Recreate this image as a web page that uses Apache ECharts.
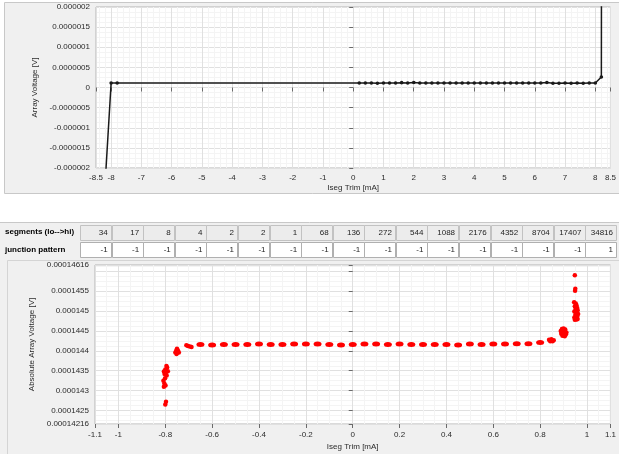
<!DOCTYPE html>
<html><head><meta charset="utf-8">
<script src="https://cdn.jsdelivr.net/npm/echarts@6/dist/echarts.min.js"></script>
<style>html,body{margin:0;padding:0;background:#fff;}#c{width:619px;height:454px;}</style>
</head><body><div id="c"></div>
<script>
// ---------- Top chart: Array Voltage vs Iseg Trim ----------
const trimTop = [-8.2, -8, -7.8,
  0.2, 0.4, 0.6, 0.8, 1.0, 1.2, 1.4, 1.6, 1.8, 2.0,
  2.2, 2.4, 2.6, 2.8, 3.0, 3.2, 3.4, 3.6, 3.8, 4.0,
  4.2, 4.4, 4.6, 4.8, 5.0, 5.2, 5.4, 5.6, 5.8, 6.0,
  6.2, 6.4, 6.6, 6.8, 7.0, 7.2, 7.4, 7.6, 7.8, 8.0,
  8.2, 8.4];
const voltTop = [-2.4e-6, 1.12e-7, 1.12e-7,
  1.12e-7, 1.12e-7, 1.12e-7, 1.04e-7, 1.12e-7, 1.12e-7, 1.12e-7, 1.20e-7, 1.10e-7, 1.23e-7,
  1.12e-7, 1.12e-7, 1.12e-7, 1.12e-7, 1.12e-7, 1.12e-7, 1.12e-7, 1.12e-7, 1.12e-7, 1.12e-7,
  1.12e-7, 1.12e-7, 1.12e-7, 1.12e-7, 1.12e-7, 1.12e-7, 1.12e-7, 1.12e-7, 1.12e-7, 1.12e-7,
  1.12e-7, 1.23e-7, 1.04e-7, 1.04e-7, 1.12e-7, 1.04e-7, 1.12e-7, 1.04e-7, 1.12e-7, 1.12e-7,
  2.61e-7, 1.44e-4];

// ---------- Table ----------
const rowNames = ['segments (lo-->hi)', 'junction pattern'];
const segments = [34, 17, 8, 4, 2, 2, 1, 68, 136, 272, 544, 1088, 2176, 4352, 8704, 17407, 34816];
const junction = [-1, -1, -1, -1, -1, -1, -1, -1, -1, -1, -1, -1, -1, -1, -1, -1, 1];

// ---------- Bottom chart: Absolute Array Voltage vs Iseg Trim ----------
// scattered clusters
const clusterX = [
  -0.795, -0.792, -0.800, -0.806, -0.797, -0.789, -0.803, -0.794, -0.801, -0.808, -0.804, -0.799, -0.806, -0.797, -0.800,
  -0.750, -0.753, -0.746, -0.757, -0.750, -0.742, -0.752,
  -0.710, -0.703, -0.695, -0.688,
  0.838, 0.848, 0.858, 0.843, 0.853,
  0.893, 0.900, 0.907, 0.888, 0.897, 0.905, 0.912, 0.890, 0.900, 0.910, 0.895, 0.905,
  0.948, 0.950, 0.949, 0.945, 0.952, 0.955, 0.948, 0.958, 0.951, 0.960, 0.946, 0.955, 0.962, 0.950, 0.958, 0.946, 0.953, 0.960, 0.948, 0.955
];
const clusterV = [
  1.4362e-4, 1.4358e-4, 1.4353e-4, 1.4348e-4, 1.4346e-4, 1.4349e-4, 1.4342e-4, 1.4338e-4, 1.4331e-4, 1.4325e-4, 1.4318e-4, 1.4313e-4, 1.4310e-4, 1.4272e-4, 1.4265e-4,
  1.4405e-4, 1.4401e-4, 1.4401e-4, 1.4396e-4, 1.4395e-4, 1.4396e-4, 1.4392e-4,
  1.4414e-4, 1.4412e-4, 1.4411e-4, 1.4410e-4,
  1.4428e-4, 1.4429e-4, 1.4427e-4, 1.4424e-4, 1.4424e-4,
  1.4455e-4, 1.4456e-4, 1.4454e-4, 1.4450e-4, 1.4448e-4, 1.4449e-4, 1.4446e-4, 1.4443e-4, 1.4441e-4, 1.4442e-4, 1.4438e-4, 1.4437e-4,
  1.4590e-4, 1.4556e-4, 1.4551e-4, 1.4522e-4, 1.4519e-4, 1.4515e-4, 1.4512e-4, 1.4508e-4, 1.4505e-4, 1.4502e-4, 1.4499e-4, 1.4496e-4, 1.4493e-4, 1.4490e-4, 1.4487e-4, 1.4484e-4, 1.4482e-4, 1.4480e-4, 1.4478e-4, 1.4479e-4
];
// plateau blobs
const plateauX = [-0.65, -0.6, -0.55, -0.5, -0.45, -0.4, -0.35, -0.3, -0.25, -0.2, -0.15, -0.1, -0.05,
  0, 0.05, 0.1, 0.15, 0.2, 0.25, 0.3, 0.35, 0.4, 0.45, 0.5, 0.55, 0.6, 0.65, 0.7, 0.75, 0.8];
const plateauV = [1.4416e-4, 1.4415e-4, 1.4416e-4, 1.4416e-4, 1.4416e-4, 1.4417e-4, 1.4416e-4, 1.4416e-4, 1.4417e-4, 1.4417e-4, 1.4417e-4, 1.4416e-4, 1.4415e-4,
  1.4416e-4, 1.4417e-4, 1.4417e-4, 1.4416e-4, 1.4417e-4, 1.4416e-4, 1.4416e-4, 1.4416e-4, 1.4416e-4, 1.4415e-4, 1.4417e-4, 1.4416e-4, 1.4417e-4, 1.4417e-4, 1.4418e-4, 1.4418e-4, 1.4421e-4];

const absMin = 0.00014216, absMax = 0.00014616;

const FONT = "'Liberation Sans', Arial, sans-serif";
const LBL = '#2a2a2a';
const FS = 8;

function fmtNum(v) {
  let s = v.toFixed(10).replace(/0+$/, '').replace(/\.$/, '');
  if (s === '-0') s = '0';
  return s;
}

const zip = (a, b) => a.map((x, i) => [x, b[i]]);

const tableData = [];
segments.forEach((v, i) => tableData.push([i, 0, v]));
junction.forEach((v, i) => tableData.push([i, 1, v]));

const gridStyle = {
  splitLine: {show: true, lineStyle: {color: '#e0e0e0', width: 1}},
  minorSplitLine: {show: true, lineStyle: {color: '#f4f4f4', width: 1}},
  axisLine: {show: false},
  axisTick: {show: true, length: 4, lineStyle: {color: '#6a6a6a'}}
};

const chart = echarts.init(document.getElementById('c'), null, {renderer: 'canvas'});
chart.setOption({
  animation: false,
  backgroundColor: '#ffffff',
  textStyle: {fontFamily: FONT},
  graphic: [
    {type: 'rect', z: -10, shape: {x: 4.5, y: 2.5, width: 616, height: 191}, style: {fill: '#f0f0f0', stroke: '#c8c8c8', lineWidth: 1}},
    {type: 'rect', z: -10, shape: {x: -1, y: 222.5, width: 622, height: 233}, style: {fill: '#f0f0f0', stroke: '#c8c8c8', lineWidth: 1}},
    {type: 'rect', z: -9, shape: {x: 7.5, y: 260.5, width: 613, height: 195}, style: {fill: '#f0f0f0', stroke: '#d4d4d4', lineWidth: 1}}
  ],
  grid: [
    {left: 96, top: 7, width: 517, height: 161, show: true, backgroundColor: '#ffffff', borderColor: '#b4b4b4', borderWidth: 1},
    {left: 80, top: 223.5, width: 537, height: 35},
    {left: 95, top: 265, width: 519, height: 159, show: true, backgroundColor: '#ffffff', borderColor: '#b4b4b4', borderWidth: 1}
  ],
  xAxis: [
    Object.assign({
      gridIndex: 0, type: 'value', min: -8.5, max: 8.5, splitNumber: 17,
      minorTick: {show: false, splitNumber: 5},
      axisLabel: {color: LBL, fontSize: FS, margin: 6, formatter: v => fmtNum(v)},
      name: 'Iseg Trim [mA]', nameLocation: 'middle', nameGap: 16,
      nameTextStyle: {color: LBL, fontSize: FS}
    }, gridStyle),
    {gridIndex: 1, type: 'category', data: segments.map((_, i) => String(i)), show: false},
    Object.assign({
      gridIndex: 2, type: 'value', min: -1.1, max: 1.1, splitNumber: 11,
      minorTick: {show: false, splitNumber: 4},
      axisLabel: {color: LBL, fontSize: FS, margin: 7, formatter: v => fmtNum(v)},
      name: 'Iseg Trim [mA]', nameLocation: 'middle', nameGap: 19,
      nameTextStyle: {color: LBL, fontSize: FS}
    }, gridStyle)
  ],
  yAxis: [
    Object.assign({
      gridIndex: 0, type: 'value', min: -0.000002, max: 0.000002, splitNumber: 8,
      minorTick: {show: false, splitNumber: 4},
      axisLabel: {color: LBL, fontSize: FS, margin: 6, formatter: v => fmtNum(v)},
      name: 'Array Voltage [V]', nameLocation: 'middle', nameGap: 56,
      nameTextStyle: {color: LBL, fontSize: FS}
    }, gridStyle),
    {
      gridIndex: 1, type: 'category', data: rowNames, inverse: true,
      axisLine: {show: false}, axisTick: {show: false}, splitLine: {show: false},
      axisLabel: {align: 'left', margin: 75, color: '#000', fontSize: FS, fontWeight: 'bold'}
    },
    Object.assign({
      gridIndex: 2, type: 'value', min: absMin, max: absMax, splitNumber: 8,
      minorTick: {show: false, splitNumber: 4},
      axisLabel: {color: LBL, fontSize: FS, margin: 6,
        formatter: v => (v !== absMax && absMax - v < 2e-7 && absMax - v > 0) ? '' : fmtNum(v)},
      name: 'Absolute Array Voltage [V]', nameLocation: 'middle', nameGap: 58,
      nameTextStyle: {color: LBL, fontSize: FS}
    }, gridStyle)
  ],
  series: [
    {
      type: 'line', xAxisIndex: 0, yAxisIndex: 0, data: zip(trimTop, voltTop),
      clip: true, symbol: 'circle', symbolSize: 3.6, showAllSymbol: true,
      lineStyle: {color: '#1a1a1a', width: 1.5}, itemStyle: {color: '#1a1a1a'}
    },
    {
      type: 'custom', xAxisIndex: 1, yAxisIndex: 1, data: tableData,
      renderItem: function (params, api) {
        const c = api.coord([api.value(0), api.value(1)]);
        const s = api.size([1, 1]);
        const row = api.value(1);
        const w = s[0];
        const x0 = c[0] - w / 2, y0 = c[1] - 7.5;
        return {
          type: 'group',
          children: [
            {type: 'rect', shape: {x: Math.round(x0) + 0.5, y: Math.round(y0) + 0.5, width: Math.round(w) - 1, height: 15},
             style: {fill: row === 0 ? '#ececec' : '#ffffff', stroke: row === 0 ? '#c2c2c2' : '#b0b0b0', lineWidth: 1}},
            {type: 'text', style: {text: String(api.value(2)), x: x0 + w - 4, y: c[1] + 0.5,
              align: 'right', verticalAlign: 'middle', fill: '#1e1e1e', fontSize: FS, fontFamily: FONT}}
          ]
        };
      }
    },
    {
      type: 'scatter', xAxisIndex: 2, yAxisIndex: 2, data: zip(plateauX, plateauV),
      symbol: 'circle', symbolSize: [8, 5], itemStyle: {color: '#ff0000', opacity: 1}
    },
    {
      type: 'scatter', xAxisIndex: 2, yAxisIndex: 2, data: zip(clusterX, clusterV),
      symbol: 'circle', symbolSize: 4.5, itemStyle: {color: '#ff0000', opacity: 1}
    }
  ]
});
</script>
</body></html>
